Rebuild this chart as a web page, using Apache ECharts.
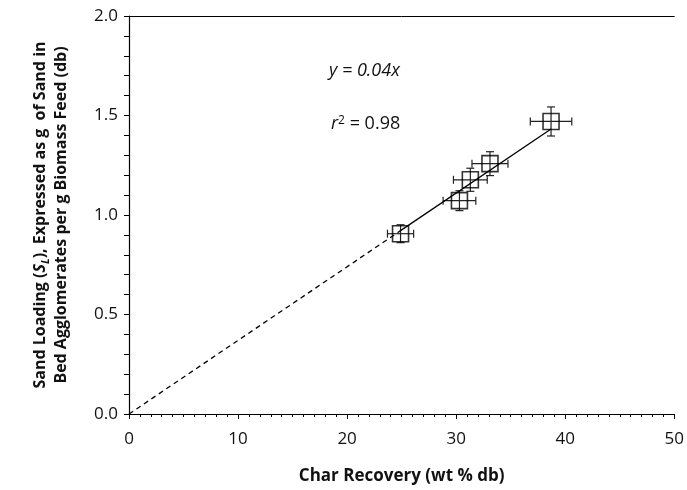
<!DOCTYPE html>
<html>
<head>
<meta charset="utf-8">
<script src="https://cdn.jsdelivr.net/npm/echarts@6/dist/echarts.min.js"></script>
<style>
  html, body { margin: 0; padding: 0; background: #fff; }
  #chart { width: 687px; height: 490px; }
</style>
</head>
<body>
<div id="chart"></div>
<script>
// Char recovery (wt % db) and sand loading (g/g) for each run
const charRecovery = [24.9, 30.3, 31.3, 33.1, 38.7];
const sandLoading  = [0.906, 1.072, 1.177, 1.258, 1.47];
// Error bar half-widths
const charErr = [1.2, 1.5, 1.55, 1.65, 1.9];
const sandErr = [0.045, 0.05, 0.058, 0.06, 0.073];

// Regression through the origin
const fitSlope = 0.037;
const fitR2 = 0.98;
const fitStartX = 24.9;   // solid part begins at the lowest point
const fitEndX = 38.7;     // and ends at the highest

const xTicks = [0, 10, 20, 30, 40, 50];
const yTicks = [0.0, 0.5, 1.0, 1.5, 2.0];

const FONT = '"Open Sans", Lato, sans-serif';

const chart = echarts.init(document.getElementById('chart'));

const errData = charRecovery.map((x, i) => [x, sandLoading[i], charErr[i], sandErr[i]]);

function renderErr(params, api) {
  const x = api.value(0), y = api.value(1), ex = api.value(2), ey = api.value(3);
  const l = api.coord([x - ex, y]), r = api.coord([x + ex, y]);
  const t = api.coord([x, y + ey]), b = api.coord([x, y - ey]);
  const cap = 4;
  const st = { stroke: '#222', lineWidth: 1.2 };
  const seg = (x1, y1, x2, y2) => ({ type: 'line', shape: { x1, y1, x2, y2 }, style: st });
  return {
    type: 'group',
    children: [
      seg(l[0], l[1], r[0], r[1]),
      seg(l[0], l[1] - cap, l[0], l[1] + cap),
      seg(r[0], r[1] - cap, r[0], r[1] + cap),
      seg(t[0], t[1], b[0], b[1]),
      seg(t[0] - cap, t[1], t[0] + cap, t[1]),
      seg(b[0] - cap, b[1], b[0] + cap, b[1])
    ]
  };
}

const option = {
  backgroundColor: '#fff',
  animation: false,
  grid: { left: 129, right: 12, top: 16, bottom: 75, containLabel: false },
  xAxis: [{
    type: 'value', min: xTicks[0], max: xTicks[xTicks.length - 1], interval: 10,
    name: 'Char Recovery (wt % db)', nameLocation: 'middle', nameGap: 54,
    nameTextStyle: { fontFamily: FONT, fontWeight: 'bold', fontSize: 17, color: '#111' },
    axisLine: { lineStyle: { color: '#000', width: 1.2 } },
    axisTick: { show: true, length: 5, lineStyle: { color: '#000' } },
    minorTick: { show: true, splitNumber: 10, length: 3, lineStyle: { color: '#000' } },
    axisLabel: { fontFamily: FONT, fontSize: 17, color: '#111', margin: 17 },
    splitLine: { show: false }
  }, {
    type: 'value', position: 'top', min: 0, max: 50,
    axisLine: { show: true, lineStyle: { color: '#000', width: 1 } },
    axisTick: { show: false }, axisLabel: { show: false }, splitLine: { show: false }
  }],
  yAxis: {
    type: 'value', min: yTicks[0], max: yTicks[yTicks.length - 1], interval: 0.5,
    name: '{b|Sand Loading (}{i|S}{sub|L}{b|), Expressed as g  of Sand in}\n{b|Bed Agglomerates per g Biomass Feed (db)}',
    nameLocation: 'middle', nameRotate: 90, nameGap: 57,
    nameTextStyle: {
      fontFamily: FONT, fontSize: 16, color: '#111', lineHeight: 21,
      rich: {
        b: { fontFamily: FONT, fontWeight: 'bold', fontSize: 16, color: '#111', lineHeight: 21 },
        i: { fontFamily: FONT, fontWeight: 'bold', fontStyle: 'italic', fontSize: 16, color: '#111', lineHeight: 21 },
        sub: { fontFamily: FONT, fontWeight: 'bold', fontStyle: 'italic', fontSize: 11, color: '#111', verticalAlign: 'bottom', lineHeight: 16 }
      }
    },
    axisLine: { show: true, lineStyle: { color: '#000', width: 1.2 } },
    axisTick: { show: true, length: 5, lineStyle: { color: '#000' } },
    minorTick: { show: true, splitNumber: 5, length: 5, lineStyle: { color: '#000' } },
    axisLabel: { fontFamily: FONT, fontSize: 17, color: '#111', margin: 11, formatter: v => v.toFixed(1) },
    splitLine: { show: false }
  },
  series: [
    {
      // dashed extrapolation back to the origin
      type: 'line', symbol: 'none',
      data: [[0, 0], [fitStartX, fitSlope * fitStartX]],
      lineStyle: { color: '#000', width: 1.3, type: [5, 4] }
    },
    {
      type: 'line', symbol: 'none',
      data: [[fitStartX, fitSlope * fitStartX], [fitEndX, fitSlope * fitEndX]],
      lineStyle: { color: '#000', width: 1.3 }
    },
    {
      type: 'custom', renderItem: renderErr, data: errData, z: 3,
      encode: { x: 0, y: 1 }
    },
    {
      type: 'scatter', symbol: 'rect', symbolSize: 16, z: 4,
      data: charRecovery.map((x, i) => [x, sandLoading[i]]),
      itemStyle: { color: 'rgba(0,0,0,0)', borderColor: '#000', borderWidth: 1.6 }
    }
  ],
  graphic: [
    {
      type: 'text', left: 329, top: 62,
      style: { text: 'y = ' + fitSlope.toFixed(2) + 'x', font: 'italic 18px ' + FONT, fill: '#111' }
    },
    {
      type: 'text', left: 331, top: 115,
      style: {
        text: '{i|r}{s|2}{n| = ' + fitR2.toFixed(2) + '}',
        rich: {
          i: { font: 'italic 18px ' + FONT, fill: '#111' },
          s: { font: '12px ' + FONT, fill: '#111', verticalAlign: 'top' },
          n: { font: '18px ' + FONT, fill: '#111' }
        }
      }
    }
  ]
};

chart.setOption(option);
</script>
</body>
</html>
